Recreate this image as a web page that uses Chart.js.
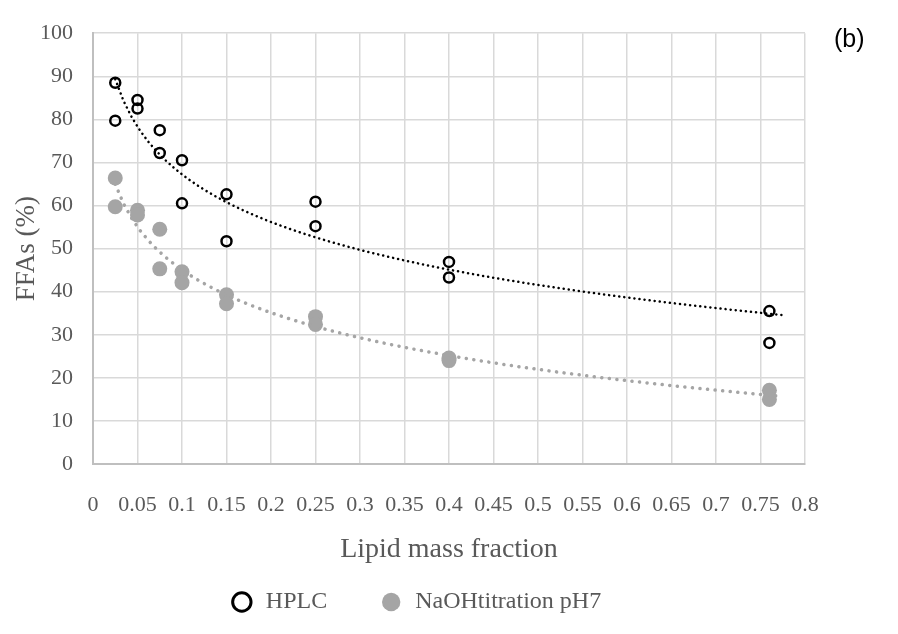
<!DOCTYPE html>
<html>
<head>
<meta charset="utf-8">
<script src="https://cdn.jsdelivr.net/npm/chart.js@4.4.1/dist/chart.umd.min.js"></script>
<style>
  html, body { margin: 0; padding: 0; background: #fff; }
  #wrap { position: relative; width: 898px; height: 634px; }
  #tag { position: absolute; left: 834px; top: 24px; font: 25px "Liberation Sans", sans-serif; color: #000; }
</style>
</head>
<body>
<div id="wrap">
  <canvas id="grafico" width="898" height="634"></canvas>
  <div id="tag">(b)</div>
</div>
<script>
// -------------------- Dados --------------------
const lipidFraction = [0.025, 0.025, 0.05, 0.05, 0.075, 0.075, 0.1, 0.1, 0.15, 0.15, 0.25, 0.25, 0.4, 0.4, 0.76, 0.76];
const hplcFFA = [88.5, 79.7, 84.5, 82.5, 77.5, 72.2, 70.5, 60.5, 62.6, 51.7, 60.9, 55.2, 46.9, 43.3, 35.5, 28.1];
const naohFFA = [66.4, 59.7, 58.9, 57.8, 54.5, 45.3, 44.6, 42.1, 39.3, 37.2, 34.2, 32.4, 24.6, 24.0, 17.1, 15.0];
const seriesLabels = ["HPLC", "NaOHtitration pH7"];
const trendEnd = 0.775; // trendline runs a bit past the last point

const corTexto = "#595959";
const serif = "'Liberation Serif', 'Times New Roman', serif";

// -------------------- Funções --------------------

// log trendline (least squares on ln x), like the spreadsheet one
function ajusteLog(xs, ys) {
  const lx = xs.map(Math.log);
  const n = xs.length;
  const mx = lx.reduce((a, b) => a + b, 0) / n;
  const my = ys.reduce((a, b) => a + b, 0) / n;
  let sxy = 0, sxx = 0;
  for (let i = 0; i < n; i++) {
    sxy += (lx[i] - mx) * (ys[i] - my);
    sxx += (lx[i] - mx) ** 2;
  }
  const a = sxy / sxx;
  const b = my - a * mx;
  return x => a * Math.log(x) + b;
}

function curva(fn, x0, x1, passos = 80) {
  const pts = [];
  for (let i = 0; i <= passos; i++) {
    const x = x0 + (x1 - x0) * i / passos;
    pts.push({ x, y: fn(x) });
  }
  return pts;
}

const pontos = ys => lipidFraction.map((x, i) => ({ x, y: ys[i] }));
const xMin = Math.min(...lipidFraction);

// nudge the legend so it sits where the original one does
const moverLegenda = {
  id: "moverLegenda",
  afterLayout(chart) {
    chart.legend.left += 13;
    chart.legend.right += 13;
  }
};

const ctx = document.getElementById("grafico").getContext("2d");
new Chart(ctx, {
  type: "scatter",
  data: {
    datasets: [
      {
        label: seriesLabels[0], data: pontos(hplcFFA), order: 1,
        pointStyle: "circle", pointRadius: 5, pointBorderWidth: 2.5,
        borderColor: "#000", backgroundColor: "rgba(0,0,0,0)"
      },
      {
        label: seriesLabels[1], data: pontos(naohFFA), order: 1,
        pointStyle: "circle", pointRadius: 7.5, pointBorderWidth: 0,
        borderColor: "#a5a5a5", backgroundColor: "#a5a5a5"
      },
      {
        label: "trend HPLC", data: curva(ajusteLog(lipidFraction, hplcFFA), xMin, trendEnd), order: 0,
        showLine: true, pointRadius: 0, borderColor: "#000", borderWidth: 2.5,
        borderDash: [0.1, 5], borderCapStyle: "round"
      },
      {
        label: "trend NaOH", data: curva(ajusteLog(lipidFraction, naohFFA), xMin, trendEnd), order: 0,
        showLine: true, pointRadius: 0, borderColor: "#a5a5a5", borderWidth: 3.5,
        borderDash: [0.1, 7.5], borderCapStyle: "round"
      }
    ]
  },
  options: {
    responsive: false,
    animation: false,
    layout: { padding: { top: 33, right: 93, bottom: 10, left: 0 } },
    plugins: {
      tooltip: { enabled: false },
      legend: {
        position: "bottom",
        labels: {
          usePointStyle: true,
          boxWidth: 24,
          boxHeight: 13,
          padding: 4,
          color: corTexto,
          font: { family: serif, size: 24 },
          filter: item => item.datasetIndex < 2,
          generateLabels(chart) {
            const itens = Chart.defaults.plugins.legend.labels.generateLabels(chart);
            itens.forEach(it => {
              if (it.datasetIndex === 0) it.text = it.text + "        ";
              it.lineWidth = it.datasetIndex === 0 ? 3 : 0;
            });
            return itens;
          }
        }
      }
    },
    scales: {
      x: {
        type: "linear", min: 0, max: 0.8,
        afterFit: s => { s.height = 122; },
        grid: { color: "#d9d9d9", lineWidth: 1.5, drawTicks: false },
        border: { color: "#bfbfbf", width: 2 },
        ticks: {
          stepSize: 0.05, autoSkip: false, maxRotation: 0, padding: 28,
          color: corTexto, font: { family: serif, size: 22 },
          callback: v => String(Number(v.toFixed(2)))
        },
        title: {
          display: true, text: "Lipid mass fraction", color: corTexto,
          font: { family: serif, size: 28 }, padding: { top: 0, bottom: 20 }
        }
      },
      y: {
        min: 0, max: 100,
        afterFit: s => { s.width = 93; },
        grid: { color: "#d9d9d9", lineWidth: 1.5, drawTicks: false },
        border: { color: "#bfbfbf", width: 2 },
        ticks: {
          stepSize: 10, padding: 20,
          color: corTexto, font: { family: serif, size: 22 }
        },
        title: {
          display: true, text: "FFAs (%)", color: corTexto,
          font: { family: serif, size: 27 }, padding: { top: 11, bottom: 0 }
        }
      }
    }
  },
  plugins: [moverLegenda]
});
</script>
</body>
</html>
